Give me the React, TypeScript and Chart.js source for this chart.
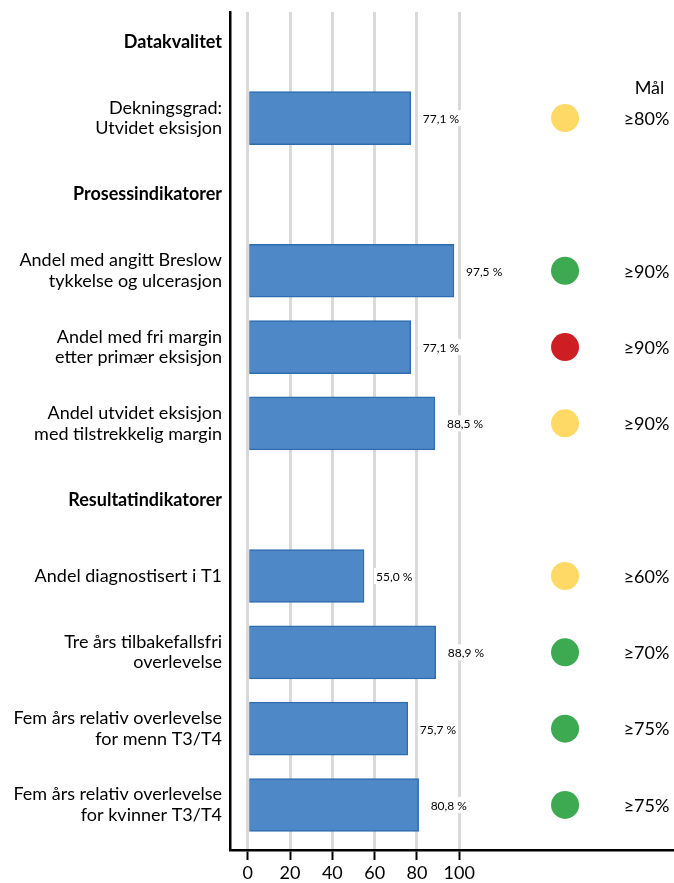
import React, { useEffect, useRef } from "react";
import { Chart, registerables } from "chart.js";

Chart.register(...registerables);

// ---- data ----
const rowLabels: (string | string[])[] = [
  "Datakvalitet",
  ["Dekningsgrad:", "Utvidet eksisjon"],
  "Prosessindikatorer",
  ["Andel med angitt Breslow", "tykkelse og ulcerasjon"],
  ["Andel med fri margin", "etter primær eksisjon"],
  ["Andel utvidet eksisjon", "med tilstrekkelig margin"],
  "Resultatindikatorer",
  "Andel diagnostisert i T1",
  ["Tre års tilbakefallsfri", "overlevelse"],
  ["Fem års relativ overlevelse", "for menn T3/T4"],
  ["Fem års relativ overlevelse", "for kvinner T3/T4"],
];
const headerRows = [0, 2, 6];
const values: (number | null)[] = [null, 77.1, null, 97.5, 77.1, 88.5, null, 55.0, 88.9, 75.7, 80.8];
const statuses: (string | null)[] = [null, "yellow", null, "green", "red", "yellow", null, "yellow", "green", "green", "green"];
const goals: (string | null)[] = [null, "≥80%", null, "≥90%", "≥90%", "≥90%", null, "≥60%", "≥70%", "≥75%", "≥75%"];
const xTicks = [0, 20, 40, 60, 80, 100];
const goalHeader = "Mål";

const statusColors: Record<string, string> = {
  yellow: "#FFD966",
  green: "#3DAA52",
  red: "#CC1E23",
};

const FONT = "Lato, 'Open Sans', sans-serif";
const STATUS_COLUMN = 150; // position of the status dots on the value axis

export default function App() {
  const ref = useRef<HTMLCanvasElement | null>(null);

  useEffect(() => {
    if (!ref.current) return;
    const barData = values
      .map((v, i) => (v === null ? null : { x: v, y: i }))
      .filter((d) => d !== null) as { x: number; y: number }[];
    const dotIdx = statuses.map((s, i) => (s ? i : -1)).filter((i) => i >= 0);
    const dotData = dotIdx.map((i) => ({ x: STATUS_COLUMN, y: i }));
    const dotColors = dotIdx.map((i) => statusColors[statuses[i] as string]);

    const labelPlugin = {
      id: "extraLabels",
      afterDatasetsDraw(chart: any) {
        const ctx = chart.ctx;
        const yScale = chart.scales.y;
        const area = chart.chartArea;
        const meta = chart.getDatasetMeta(0);
        ctx.save();
        ctx.font = `12px ${FONT}`;
        ctx.textBaseline = "middle";
        ctx.textAlign = "left";
        meta.data.forEach((el: any, k: number) => {
          const v = barData[k].x;
          const txt = v.toFixed(1).replace(".", ",") + " %";
          const w = ctx.measureText(txt).width;
          const tx = el.x + 12;
          ctx.fillStyle = "#fff";
          ctx.fillRect(tx - 2, el.y - 8, w + 4, 16);
          ctx.fillStyle = "#000";
          ctx.fillText(txt, tx, el.y + 1);
        });
        ctx.font = `18px ${FONT}`;
        ctx.textAlign = "center";
        ctx.fillStyle = "#000";
        const gx = area.right - 27.5;
        goals.forEach((g, i) => {
          if (!g) return;
          ctx.fillText(g, gx, yScale.getPixelForValue(i) + 1);
        });
        ctx.fillText(goalHeader, gx + 3, yScale.getPixelForValue(1) - 30);
        ctx.restore();
      },
    };

    const chart = new Chart(ref.current, {
      type: "bar",
      data: {
        datasets: [
          {
            type: "bar",
            data: barData,
            backgroundColor: "#4F88C6",
            borderColor: "#2E6DB0",
            borderWidth: 1.5,
            barThickness: 53,
          } as any,
          {
            type: "scatter",
            data: dotData,
            pointRadius: 14,
            pointHoverRadius: 14,
            pointBackgroundColor: dotColors,
            pointBorderWidth: 0,
            borderWidth: 0,
            clip: false,
          } as any,
        ],
      },
      options: {
        indexAxis: "y",
        animation: false,
        responsive: false,
        maintainAspectRatio: false,
        layout: { autoPadding: false, padding: { top: 12, right: 0, bottom: 0, left: 0 } },
        plugins: {
          legend: { display: false },
          tooltip: { enabled: false },
        },
        scales: {
          x: {
            type: "linear",
            position: "bottom",
            offset: false,
            min: -8.36,
            max: 201.5,
            afterBuildTicks: (scale: any) => {
              scale.ticks = xTicks.map((v) => ({ value: v }));
            },
            afterFit: (scale: any) => {
              scale.height = 33;
              scale.paddingLeft = 0;
              scale.paddingRight = 0;
            },
            grid: {
              offset: false,
              color: "#DADADA",
              lineWidth: 3,
              drawTicks: true,
              tickLength: 10,
              tickColor: "#000",
              tickWidth: 2,
            },
            border: { display: true, color: "#000", width: 2.5 },
            ticks: {
              color: "#000",
              font: { family: FONT, size: 18 },
              padding: 2,
              autoSkip: false,
              maxRotation: 0,
            },
          },
          y: {
            type: "linear",
            position: "left",
            reverse: true,
            offset: false,
            min: -0.39,
            max: 10.59,
            afterBuildTicks: (scale: any) => {
              scale.ticks = rowLabels.map((_, i) => ({ value: i }));
            },
            afterFit: (scale: any) => {
              scale.width = 230;
              scale.paddingTop = 0;
              scale.paddingBottom = 0;
            },
            grid: { display: false, drawTicks: false, offset: false },
            border: { display: true, color: "#000", width: 2.5 },
            ticks: {
              color: "#000",
              autoSkip: false,
              padding: 8,
              font: (c: any) => ({
                family: FONT,
                size: 18,
                weight: headerRows.includes(c.index) ? "bold" : "normal",
                lineHeight: 1.15,
              }),
              callback: (v: any) => rowLabels[v as number],
            },
          },
        },
      } as any,
      plugins: [labelPlugin],
    });
    return () => chart.destroy();
  }, []);

  return (
    <div style={{ position: "absolute", left: 0, top: 0, width: 674, height: 883, background: "#fff" }}>
      <canvas ref={ref} width={674} height={883} />
    </div>
  );
}
